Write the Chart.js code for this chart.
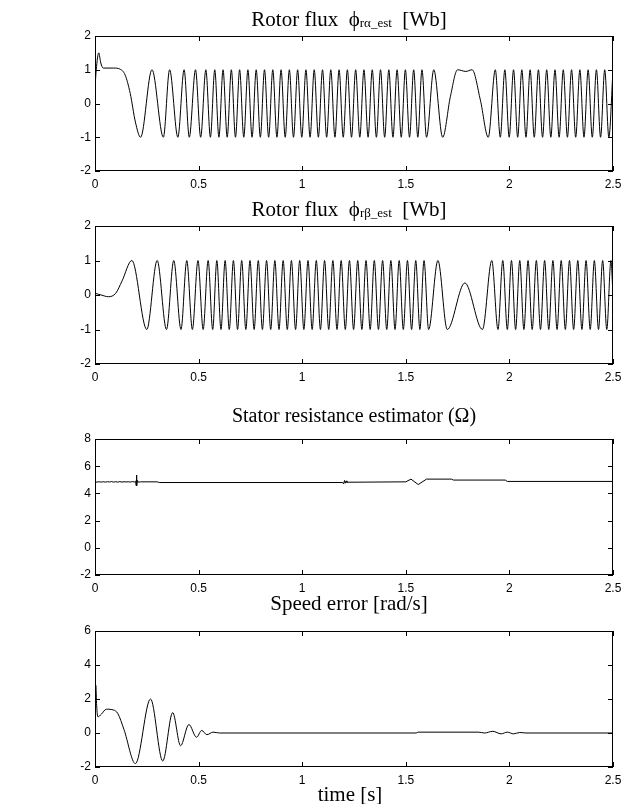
<!DOCTYPE html>
<html>
<head>
<meta charset="utf-8">
<script src="https://cdn.jsdelivr.net/npm/chart.js@4/dist/chart.umd.min.js"></script>
<style>
  body { margin: 0; background: #fff; }
  #wrap { position: relative; width: 634px; height: 804px; }
  .panel { position: absolute; left: 0; }
</style>
</head>
<body>
<div id="wrap">
  <canvas class="panel" id="c1" width="634" height="200" style="top:0px"></canvas>
  <canvas class="panel" id="c2" width="634" height="200" style="top:190px"></canvas>
  <canvas class="panel" id="c3" width="634" height="200" style="top:395px"></canvas>
  <canvas class="panel" id="c4" width="634" height="219" style="top:585px"></canvas>
</div>
<script>
// ==========================================
// Data
// ==========================================

// rotor flux alpha: extrema of the estimated flux
const alphaTime = [
  0, 0.006, 0.018, 0.028, 0.04, 0.09, 0.12, 0.145, 0.17, 0.195, 0.22, 0.275, 0.33, 0.36, 0.40, 0.43,
  0.455, 0.485, 0.51, 0.535, 0.557, 0.578, 0.598,
  0.618, 0.638, 0.658, 0.678, 0.698, 0.718, 0.738, 0.758, 0.778, 0.798, 0.818, 0.838, 0.858, 0.878,
  0.898, 0.918, 0.938, 0.958, 0.978, 0.998, 1.018, 1.038, 1.058, 1.078, 1.098, 1.118, 1.138, 1.158,
  1.178, 1.198, 1.218, 1.238, 1.258, 1.278, 1.298, 1.318, 1.338, 1.358, 1.378, 1.398, 1.418, 1.438,
  1.458, 1.478, 1.498, 1.518, 1.538, 1.558, 1.578,
  1.6, 1.635, 1.678, 1.715, 1.75, 1.79, 1.82, 1.86, 1.898, 1.932, 1.956, 1.978, 1.999,
  2.02, 2.04, 2.06, 2.08, 2.1, 2.12, 2.14, 2.16, 2.18, 2.2, 2.22, 2.24, 2.26, 2.28, 2.3, 2.32, 2.34,
  2.36, 2.38, 2.4, 2.42, 2.44, 2.46, 2.48, 2.5
];
const alphaFlux = [
  0.45, 1.0, 1.5, 1.2, 1.05, 1.05, 1.02, 0.85, 0.3, -0.55, -1, 1, -1, 1, -1, 1,
  -1, 1, -1, 1, -1, 1, -1,
  1, -1, 1, -1, 1, -1, 1, -1, 1, -1, 1, -1, 1, -1,
  1, -1, 1, -1, 1, -1, 1, -1, 1, -1, 1, -1, 1, -1,
  1, -1, 1, -1, 1, -1, 1, -1, 1, -1, 1, -1, 1, -1,
  1, -1, 1, -1, 1, -1, 1,
  -1, 1, -1, 0.2, 1, 0.95, 1, 0.1, -1, 1, -1, 1, -1,
  1, -1, 1, -1, 1, -1, 1, -1, 1, -1, 1, -1, 1, -1, 1, -1, 1,
  -1, 1, -1, 1, -1, 1, -1, 1
];

// rotor flux beta
const betaTime = [
  0, 0.03, 0.065, 0.1, 0.13, 0.178, 0.25, 0.30, 0.345, 0.38, 0.415, 0.443, 0.47, 0.497, 0.522, 0.546,
  0.568, 0.588, 0.608,
  0.628, 0.648, 0.668, 0.688, 0.708, 0.728, 0.748, 0.768, 0.788, 0.808, 0.828, 0.848, 0.868, 0.888,
  0.908, 0.928, 0.948, 0.968, 0.988, 1.008, 1.028, 1.048, 1.068, 1.088, 1.108, 1.128, 1.148, 1.168,
  1.188, 1.208, 1.228, 1.248, 1.268, 1.288, 1.308, 1.328, 1.348, 1.368, 1.388, 1.408, 1.428, 1.448,
  1.468, 1.488, 1.508, 1.528, 1.548, 1.568, 1.588,
  1.61, 1.655, 1.70, 1.785, 1.87, 1.915, 1.945, 1.968, 1.99,
  2.01, 2.03, 2.05, 2.07, 2.09, 2.11, 2.13, 2.15, 2.17, 2.19, 2.21, 2.23, 2.25, 2.27, 2.29, 2.31, 2.33,
  2.35, 2.37, 2.39, 2.41, 2.43, 2.45, 2.47, 2.49, 2.5
];
const betaFlux = [
  0.05, 0.0, -0.05, 0.05, 0.4, 1, -1, 1, -1, 1, -1, 1, -1, 1, -1, 1,
  -1, 1, -1,
  1, -1, 1, -1, 1, -1, 1, -1, 1, -1, 1, -1, 1, -1,
  1, -1, 1, -1, 1, -1, 1, -1, 1, -1, 1, -1, 1, -1,
  1, -1, 1, -1, 1, -1, 1, -1, 1, -1, 1, -1, 1, -1,
  1, -1, 1, -1, 1, -1, 1,
  -1, 1, -1, 0.35, -1, 1, -1, 1, -1,
  1, -1, 1, -1, 1, -1, 1, -1, 1, -1, 1, -1, 1, -1, 1, -1, 1,
  -1, 1, -1, 1, -1, 1, -1, 1, 0
];

// stator resistance estimate (ohm)
const rsTime = [
  0, 0.01, 0.02, 0.03, 0.04, 0.05, 0.06, 0.07, 0.08, 0.09, 0.1, 0.11, 0.12, 0.13, 0.14, 0.15, 0.16,
  0.17, 0.18, 0.19, 0.196, 0.198, 0.2, 0.202, 0.205, 0.21, 0.22, 0.3, 0.31,
  1.195, 1.2, 1.204, 1.208, 1.212, 1.216, 1.22, 1.5, 1.525, 1.56, 1.6, 1.72, 1.73, 1.98, 1.99, 2.5
];
const rsValue = [
  4.85, 4.83, 4.86, 4.83, 4.86, 4.83, 4.86, 4.84, 4.87, 4.83, 4.86, 4.83, 4.87, 4.83, 4.86, 4.84, 4.86,
  4.83, 4.87, 4.84, 4.9, 4.6, 5.35, 4.55, 4.95, 4.82, 4.85, 4.85, 4.8,
  4.8, 4.7, 4.95, 4.75, 4.92, 4.8, 4.82, 4.85, 5.05, 4.65, 5.05, 5.05, 4.98, 4.98, 4.88, 4.88
];

// speed error (rad/s)
const speedTime = [
  0, 0.004, 0.008, 0.014, 0.03, 0.055, 0.09, 0.11, 0.14, 0.195, 0.268, 0.327, 0.375, 0.413, 0.453, 0.49,
  0.515, 0.54, 0.57, 0.6, 1.55, 1.56, 1.85, 1.88, 1.92, 1.96, 1.99, 2.02, 2.05, 2.08, 2.5
];
const speedError = [
  2.2, 2.8, 1.6, 0.95, 1.1, 1.4, 1.35, 1.15, 0.2, -1.8, 2.0, -1.65, 1.2, -0.75, 0.5, -0.25,
  0.15, -0.1, 0.05, 0, 0, 0.05, 0.05, 0, 0.1, -0.05, 0.05, -0.05, 0.03, 0, 0
];

const xTicks = [0, 0.5, 1, 1.5, 2, 2.5];

// ==========================================
// Plugin: matlab style box, inner ticks, titles
// ==========================================

const SERIF = '"Liberation Serif", "Times New Roman", serif';
const SANS = '"Liberation Sans", Arial, sans-serif';

function drawParts(ctx, parts, cx, y) {
    let total = 0;
    parts.forEach(function (p) {
        ctx.font = p.size + 'px ' + SERIF;
        p.w = ctx.measureText(p.text).width;
        total += p.w;
    });
    let x = cx - total / 2;
    ctx.textBaseline = 'middle';
    ctx.textAlign = 'left';
    parts.forEach(function (p) {
        ctx.font = p.size + 'px ' + SERIF;
        ctx.fillText(p.text, x, y + (p.dy || 0));
        x += p.w;
    });
}

const matlabBox = {
    id: 'matlabBox',
    afterDraw(chart, args, opts) {
        const ctx = chart.ctx;
        const a = chart.chartArea;
        const xs = chart.scales.x;
        const ys = chart.scales.y;
        const len = 5;
        ctx.save();
        ctx.strokeStyle = '#000';
        ctx.lineWidth = 1;
        ctx.strokeRect(a.left + 0.5, a.top + 0.5, a.right - a.left - 1, a.bottom - a.top - 1);
        ctx.beginPath();
        xs.ticks.forEach(function (t) {
            const px = Math.round(xs.getPixelForValue(t.value)) + 0.5;
            ctx.moveTo(px, a.top);
            ctx.lineTo(px, a.top + len);
            ctx.moveTo(px, a.bottom);
            ctx.lineTo(px, a.bottom - len);
        });
        ys.ticks.forEach(function (t) {
            const py = Math.round(ys.getPixelForValue(t.value)) + 0.5;
            ctx.moveTo(a.left, py);
            ctx.lineTo(a.left + len, py);
            ctx.moveTo(a.right, py);
            ctx.lineTo(a.right - len, py);
        });
        ctx.stroke();

        ctx.fillStyle = '#000';
        const cx = (a.left + a.right) / 2;
        (opts.texts || []).forEach(function (t) {
            drawParts(ctx, t.parts, cx + (t.dx || 0), t.y);
        });
        ctx.restore();
    }
};

// ==========================================
// Chart setup
// ==========================================

function plainLabel(value) {
    return String(value);
}

function makeChart(id, times, values, yMin, yMax, yStep, padTop, xHeight, texts, smooth) {
    const ctx = document.getElementById(id).getContext('2d');
    return new Chart(ctx, {
        type: 'line',
        data: {
            datasets: [{
                data: times.map(function (t, i) { return { x: t, y: values[i] }; }),
                borderColor: '#000',
                borderWidth: 1,
                pointRadius: 0,
                fill: false,
                cubicInterpolationMode: smooth ? 'monotone' : 'default',
                tension: 0
            }]
        },
        options: {
            responsive: false,
            animation: false,
            layout: { padding: { top: padTop, right: 21, left: 0, bottom: 0 } },
            scales: {
                x: {
                    type: 'linear',
                    min: 0,
                    max: 2.5,
                    afterBuildTicks: function (s) { s.ticks = xTicks.map(function (v) { return { value: v }; }); },
                    afterFit: function (s) { s.height = xHeight; },
                    grid: { display: false, drawTicks: false },
                    border: { display: false },
                    ticks: {
                        color: '#000',
                        padding: 6,
                        maxRotation: 0,
                        callback: plainLabel,
                        font: { family: SANS, size: 12 }
                    }
                },
                y: {
                    type: 'linear',
                    min: yMin,
                    max: yMax,
                    afterFit: function (s) { s.width = 95; },
                    grid: { display: false, drawTicks: false },
                    border: { display: false },
                    ticks: {
                        stepSize: yStep,
                        color: '#000',
                        padding: 4,
                        callback: plainLabel,
                        font: { family: SANS, size: 12 }
                    }
                }
            },
            plugins: {
                legend: { display: false },
                tooltip: { enabled: false },
                matlabBox: { texts: texts }
            }
        },
        plugins: [matlabBox]
    });
}

function initFigure() {
    makeChart('c1', alphaTime, alphaFlux, -2, 2, 1, 36, 29, [{
        y: 20, dx: -5, parts: [
            { text: 'Rotor flux  ', size: 21 },
            { text: '\u03d5', size: 21 },
            { text: 'r\u03b1_est', size: 13, dy: 4 },
            { text: '  [Wb]', size: 21 }
        ]
    }], true);

    makeChart('c2', betaTime, betaFlux, -2, 2, 1, 36, 26, [{
        y: 20, dx: -5, parts: [
            { text: 'Rotor flux  ', size: 21 },
            { text: '\u03d5', size: 21 },
            { text: 'r\u03b2_est', size: 13, dy: 4 },
            { text: '  [Wb]', size: 21 }
        ]
    }], true);

    makeChart('c3', rsTime, rsValue, -2, 8, 2, 44, 20, [{
        y: 22, dx: 0, parts: [{ text: 'Stator resistance estimator (\u03a9)', size: 20 }]
    }], false);

    makeChart('c4', speedTime, speedError, -2, 6, 2, 46, 37, [
        { y: 19, dx: -5, parts: [{ text: 'Speed error [rad/s]', size: 21 }] },
        { y: 210, dx: -4, parts: [{ text: 'time [s]', size: 21 }] }
    ], true);
}

document.addEventListener('DOMContentLoaded', initFigure);
</script>
</body>
</html>
